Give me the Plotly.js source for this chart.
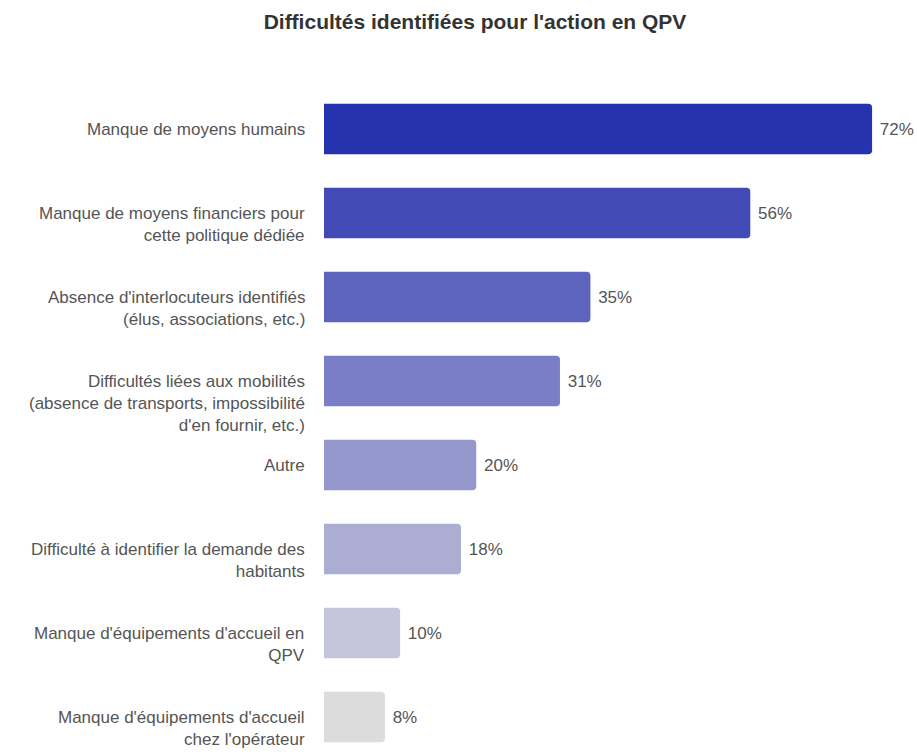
<!DOCTYPE html>
<html>
<head>
<meta charset="utf-8">
<script src="https://cdn.plot.ly/plotly-3.0.1.min.js"></script>
<style>html,body{margin:0;padding:0;background:#fff;}#chart{width:917px;height:754px;}</style>
</head>
<body>
<div id="chart"></div>
<script>
const categories = [
  "Manque de moyens humains",
  "Manque de moyens financiers pour<br>cette politique dédiée",
  "Absence d'interlocuteurs identifiés<br>(élus, associations, etc.)",
  "Difficultés liées aux mobilités<br>(absence de transports, impossibilité<br>d'en fournir, etc.)",
  "Autre",
  "Difficulté à identifier la demande des<br>habitants",
  "Manque d'équipements d'accueil en<br>QPV",
  "Manque d'équipements d'accueil<br>chez l'opérateur"
];
const values = [72, 56, 35, 31, 20, 18, 10, 8];
const valueLabels = ["72%", "56%", "35%", "31%", "20%", "18%", "10%", "8%"];
const barColors = ["#2633AE", "#414AB6", "#5D64BE", "#7A7EC6", "#9497CC", "#ABADD3", "#C5C6DC", "#DCDCDC"];
const titleText = "Difficultés identifiées pour l'action en QPV";

const FONT = "Liberation Sans, Arial, sans-serif";

const trace = {
  type: "bar",
  orientation: "h",
  x: values,
  y: categories,
  text: valueLabels,
  texttemplate: " %{text}",
  textposition: "outside",
  cliponaxis: false,
  textfont: {family: FONT, size: 17, color: "#555555"},
  marker: {color: barColors, cornerradius: 4},
  width: 0.6,
  hoverinfo: "none"
};

const annotations = categories.map((c) => ({
  x: 0, xref: "x", y: c, yref: "y",
  text: c,
  showarrow: false,
  xanchor: "right", yanchor: "top",
  align: "right",
  xshift: -17, yshift: 11,
  font: {family: FONT, size: 17, color: "#555555"}
}));

const layout = {
  width: 917, height: 754,
  margin: {l: 324, r: 0, t: 87, b: 0, pad: 0},
  paper_bgcolor: "#ffffff",
  plot_bgcolor: "#ffffff",
  showlegend: false,
  title: {
    text: titleText,
    font: {family: FONT, size: 21, color: "#333333", weight: "bold"},
    x: 475/917, xref: "container", xanchor: "center",
    y: 1 - 22/754, yref: "container", yanchor: "middle"
  },
  xaxis: {range: [0, 77.9], showgrid: false, zeroline: false, showticklabels: false, showline: false, ticks: ""},
  yaxis: {type: "category", categoryorder: "array", categoryarray: categories, range: [7.44, -0.5],
          showgrid: false, zeroline: false, showticklabels: false, showline: false, ticks: ""},
  annotations: annotations,
  bargap: 0.4
};

Plotly.newPlot("chart", [trace], layout, {displayModeBar: false, staticPlot: true});
</script>
</body>
</html>
